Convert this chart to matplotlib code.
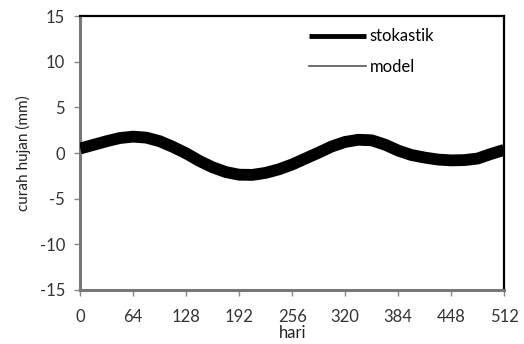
import matplotlib
matplotlib.use('Agg')
import matplotlib.pyplot as plt

# values (every 16 days)
hari = [0, 16, 32, 48, 64, 80, 96, 112, 128, 144, 160, 176, 192, 208, 224, 240,
        256, 272, 288, 304, 320, 336, 352, 368, 384, 400, 416, 432, 448, 464, 480, 496, 512]
stokastik = [0.5, 0.9, 1.3, 1.65, 1.8, 1.69, 1.3, 0.68, -0.03, -0.86, -1.56, -2.08, -2.37, -2.39,
             -2.17, -1.78, -1.25, -0.6, 0.05, 0.73, 1.22, 1.46, 1.4, 0.93, 0.28, -0.21, -0.49,
             -0.71, -0.8, -0.77, -0.6, -0.1, 0.35]
model = list(stokastik)

xticks = [0, 64, 128, 192, 256, 320, 384, 448, 512]
yticks = [-15, -10, -5, 0, 5, 10, 15]

plt.rcParams['font.family'] = ['Lato', 'DejaVu Sans']
plt.rcParams['axes.unicode_minus'] = False

fig = plt.figure(figsize=(5.24, 3.44), dpi=100)
ax = fig.add_axes([0.153, 0.157, 0.809, 0.796])

# model sits underneath the thick stochastic curve
ax.plot(hari, model, color='#555555', linewidth=1.2, label='model', zorder=2)
ax.plot(hari, stokastik, color='black', linewidth=8.5, solid_capstyle='butt',
        solid_joinstyle='round', label='stokastik', zorder=3)

ax.set_xlim(0, 512)
ax.set_ylim(-15, 15)
ax.set_xticks(xticks)
ax.set_yticks(yticks)
ax.tick_params(axis='both', direction='out', length=4, width=1, color='#888888',
               labelsize=12, labelcolor='#333333')
ax.tick_params(axis='x', pad=10)
ax.tick_params(axis='y', pad=7)

for side in ['left', 'bottom']:
    ax.spines[side].set_color('#777777')
    ax.spines[side].set_linewidth(2.2)
for side in ['top', 'right']:
    ax.spines[side].set_color('black')
    ax.spines[side].set_linewidth(1.6)

ax.set_xlabel('hari', fontsize=12, color='#222222', labelpad=0)
ax.set_ylabel('curah hujan (mm)', fontsize=11, color='#222222', labelpad=6)

handles, labels = ax.get_legend_handles_labels()
leg = ax.legend([handles[1], handles[0]], [labels[1], labels[0]], loc='upper right',
                bbox_to_anchor=(0.87, 1.01), frameon=False, fontsize=12,
                handlelength=3.4, handletextpad=0.2, labelspacing=0.85)
leg.get_lines()[0].set_linewidth(3.5)

fig.savefig('out.png', dpi=100)
